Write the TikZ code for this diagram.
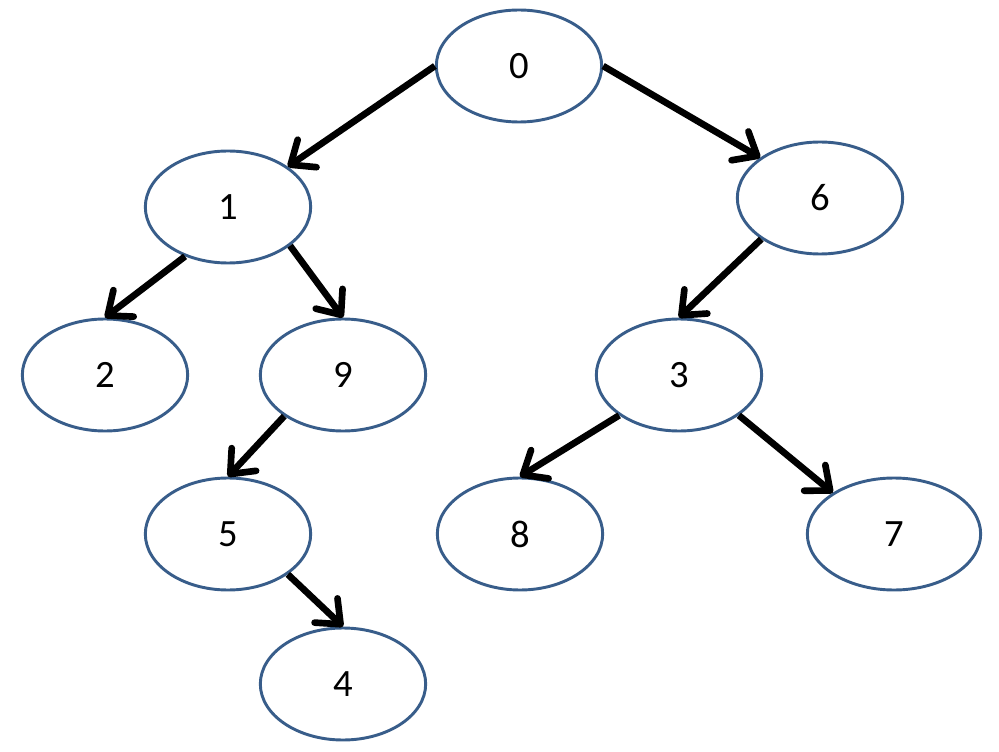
\documentclass[tikz,border=0pt]{standalone}
\usepackage{fontspec}
\setmainfont{Carlito}
\usetikzlibrary{shapes.geometric,arrows.meta}
\definecolor{nodeblue}{HTML}{385D8A}
\begin{document}
\begin{tikzpicture}[x=0.75pt,y=-0.75pt,
    vertex/.style={ellipse,draw=nodeblue,line width=2.2pt,inner sep=0pt,
      minimum width=124pt,minimum height=84pt,
      font=\fontsize{29}{34}\selectfont},
    edge/.style={line width=5pt,
      -{Straight Barb[length=15pt,width=25pt,round]}}]
  \useasboundingbox (0,0) rectangle (999,752);

  \node[vertex] (n0) at (519,66) {0};
  \node[vertex] (n1) at (228,207) {1};
  \node[vertex] (n6) at (820,198) {6};
  \node[vertex] (n2) at (105,375) {2};
  \node[vertex] (n9) at (343,375) {9};
  \node[vertex] (n3) at (679,375) {3};
  \node[vertex] (n5) at (228,534) {5};
  \node[vertex] (n8) at (520,534) {8};
  \node[vertex,minimum width=130pt] (n7) at (894,534) {7};
  \node[vertex] (n4) at (343,684) {4};

  \draw[edge] (n0.west) -- (n1.34);
  \draw[edge] (n0.east) -- (n6.146);
  \draw[edge] (n1.229) -- (n2.north);
  \draw[edge] (n1.328) -- (n9.north);
  \draw[edge] (n6.215) -- (n3.north);
  \draw[edge] (n9.215) -- (n5.north);
  \draw[edge] (n3.214) -- (n8.north);
  \draw[edge] (n3.326) -- (n7.146);
  \draw[edge] (n5.326) -- (n4.north);
\end{tikzpicture}
\end{document}
